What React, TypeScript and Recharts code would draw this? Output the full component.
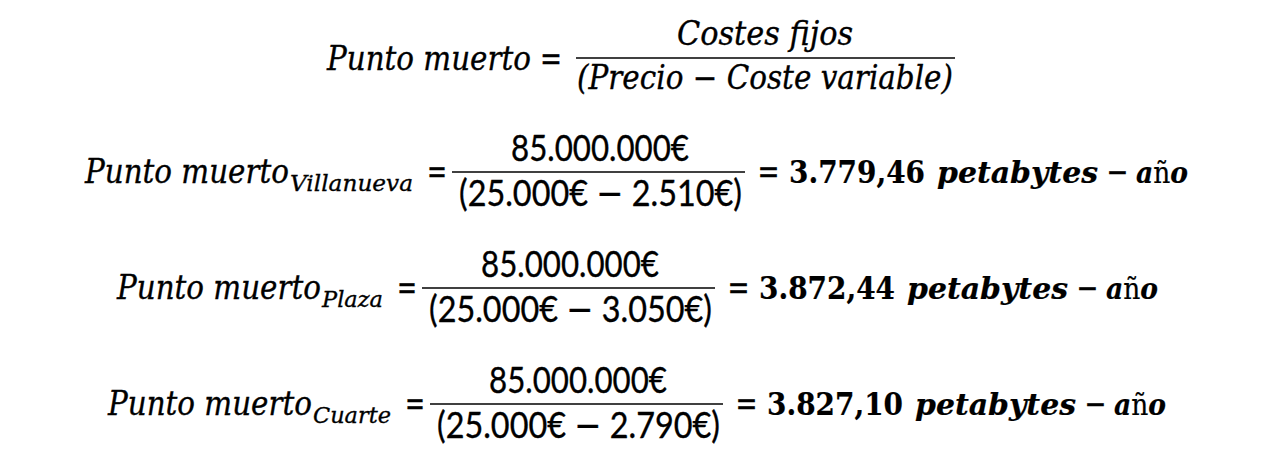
import { ComposedChart, Customized, ReferenceLine, XAxis, YAxis } from "recharts"

// Break-even (punto muerto) per site
const sites = ["Villanueva", "Plaza", "Cuarte"]
const fixedCosts = [85000000, 85000000, 85000000]
const prices = [25000, 25000, 25000]
const variableCosts = [2510, 3050, 2790]
const breakEven = [3779.46, 3872.44, 3827.1]

const titleLabel = "Punto muerto"
const numeratorLabel = "Costes fijos"
const denominatorLabel = ["(Precio ", "\u2212", " Coste variable)"]
const unitLabel = "petabytes"
const yearLabel = ["a", "ñ", "o"]

const W = 1264
const H = 464

// layout (pixels)
const ITALIC = "'DejaVu Serif', serif"
const SANS = "Lato, 'Open Sans', sans-serif"
const TITLE_W = 204
const head = { x: 327, barY: 58, barX0: 576, barX1: 955, numX: 677, numW: 176, denX: 577, denW: 376 }
const rowBarY = [172, 288, 404]
const rowStartX = [85, 117, 108]
const rowSubW = [123, 61, 78]

const thousands = (n: number) =>
  Math.round(n).toString().replace(/\B(?=(\d{3})+(?!\d))/g, ".")
const euros = (n: number) => `${thousands(n)}€`
const decimal = (n: number) => {
  const [i, d] = n.toFixed(2).split(".")
  return `${thousands(Number(i))},${d}`
}

type TProps = {
  x: number
  y: number
  w: number
  size: number
  family?: string
  weight?: string | number
  italic?: boolean
  children: React.ReactNode
}

function T({ x, y, w, size, family = ITALIC, weight = "normal", italic = true, children }: TProps) {
  return (
    <text
      x={x}
      y={y}
      fontSize={size}
      fontFamily={family}
      fontWeight={weight}
      fontStyle={italic ? "italic" : "normal"}
      textLength={w}
      lengthAdjust="spacingAndGlyphs"
      fill="#000"
      stroke="#000"
      strokeWidth={weight === "bold" ? 0.2 : 0.35}
    >
      {children}
    </text>
  )
}

// "=" and "−" glyphs carry side bearings; widen the advance a little
function Op({ x, y, w, sign }: { x: number; y: number; w: number; sign: string }) {
  return (
    <T x={x - 1.5} y={y} w={w + 3} size={33} italic={false}>
      {sign}
    </T>
  )
}

const Minus = () => (
  <tspan fontFamily={ITALIC} fontStyle="normal" fontWeight="normal">
    {"\u2212"}
  </tspan>
)

function barStart(i: number) {
  return rowStartX[i] + TITLE_W + 1 + rowSubW[i] + 14 + 25
}

function Formulas() {
  return (
    <g>
      {/* general formula */}
      <T x={head.x} y={head.barY + 12} w={TITLE_W} size={33}>
        {titleLabel}
      </T>
      <T x={head.x + 213} y={head.barY + 12} w={22} size={33} italic={false}>
        =
      </T>
      <T x={head.numX} y={head.barY - 13} w={head.numW} size={33}>
        {numeratorLabel}
      </T>
      <T x={head.denX} y={head.barY + 31} w={head.denW} size={33}>
        {denominatorLabel[0]}
        <Minus />
        {denominatorLabel[2]}
      </T>

      {sites.map((site, i) => {
        const y = rowBarY[i]
        const bx = barStart(i)
        const r = bx + 307
        const base = y + 11
        return (
          <g key={site}>
            <T x={rowStartX[i]} y={base} w={TITLE_W} size={33}>
              {titleLabel}
            </T>
            <T x={rowStartX[i] + TITLE_W + 1} y={base + 8} w={rowSubW[i]} size={23}>
              {site}
            </T>
            <T x={bx - 25} y={base} w={20} size={33} italic={false}>
              =
            </T>
            <T x={bx + 59} y={y - 11} w={178} size={37} family={SANS} italic={false}>
              {euros(fixedCosts[i])}
            </T>
            <T x={bx + 7} y={y + 34} w={283} size={37} family={SANS} italic={false}>
              {`(${euros(prices[i])} `}
              <Minus />
              {` ${euros(variableCosts[i])})`}
            </T>
            <Op x={r} y={base} w={19} sign="=" />
            <T x={r + 30} y={base} w={136} size={31} weight="bold" italic={false}>
              {decimal(breakEven[i])}
            </T>
            <T x={r + 178} y={base} w={161} size={30} weight="bold">
              {unitLabel}
            </T>
            <Op x={r + 349} y={base} w={19} sign={"\u2212"} />
            <T x={r + 377} y={base} w={52} size={29} weight="bold">
              <tspan>{yearLabel[0]}</tspan>
              <tspan fontStyle="normal" fontWeight="normal">
                {yearLabel[1]}
              </tspan>
              <tspan>{yearLabel[2]}</tspan>
            </T>
          </g>
        )
      })}
    </g>
  )
}

export default function App() {
  return (
    <div style={{ width: W, height: H, background: "#fff" }}>
      <style>{"body{margin:0;background:#fff}"}</style>
      <ComposedChart width={W} height={H} data={[]} margin={{ top: 0, right: 0, bottom: 0, left: 0 }}>
        <XAxis type="number" dataKey="x" domain={[0, W]} hide allowDataOverflow />
        <YAxis type="number" dataKey="y" domain={[0, H]} reversed hide allowDataOverflow />
        <ReferenceLine
          segment={[
            { x: head.barX0, y: head.barY },
            { x: head.barX1, y: head.barY },
          ]}
          stroke="#000"
          strokeWidth={1.6}
        />
        {rowBarY.map((y, i) => (
          <ReferenceLine
            key={sites[i]}
            segment={[
              { x: barStart(i), y },
              { x: barStart(i) + 293, y },
            ]}
            stroke="#000"
            strokeWidth={1.6}
          />
        ))}
        <Customized component={<Formulas />} />
      </ComposedChart>
    </div>
  )
}
